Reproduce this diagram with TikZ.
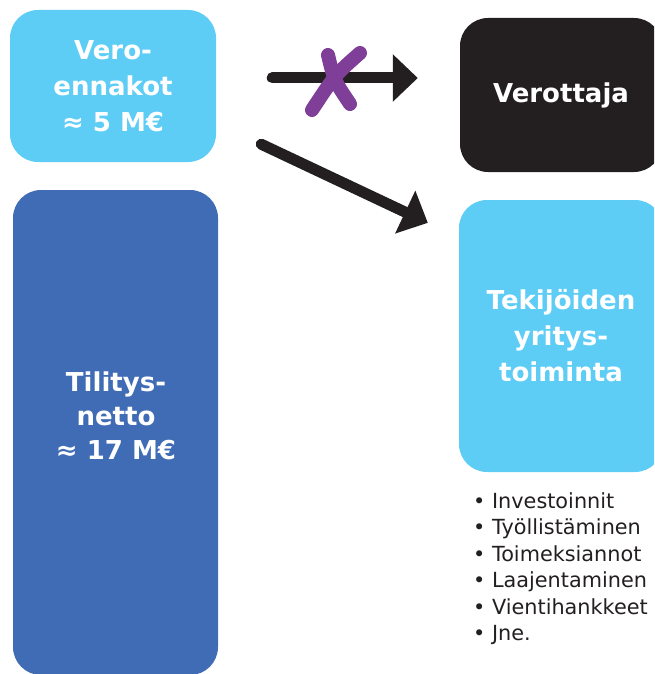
\documentclass[tikz,border=0pt]{standalone}
\usepackage{fontspec}
\setmainfont{DejaVu Sans}
\usetikzlibrary{arrows.meta}
\definecolor{skyfill}{RGB}{94,205,246}
\definecolor{navyfill}{RGB}{63,108,181}
\definecolor{inkfill}{RGB}{35,31,32}
\definecolor{crossmark}{RGB}{127,63,152}
\begin{document}
\begin{tikzpicture}[x=1pt,y=-1pt,
  box/.style={rounded corners=28pt, inner sep=0pt, text=white, align=center,
    font=\bfseries\fontsize{26}{36}\selectfont},
  flow/.style={line width=11pt, draw=inkfill, line cap=round,
    -{Triangle[length=25pt,width=46pt]}},
  xstroke/.style={draw=crossmark, line width=14pt, line cap=round},
  item/.style={anchor=base west, inner sep=0pt, text=inkfill,
    font=\fontsize{20.8}{24}\selectfont}]
\clip (0,0) rectangle (654,674);

% boxes
\node[box, fill=skyfill, minimum width=206pt, minimum height=152pt] (v1) at (113,86)
  {Vero-\\ennakot\\≈ 5 M€};
\node[box, fill=navyfill, minimum width=205pt, minimum height=485pt] (ti) at (115.5,432.5) {};
\node[box, font=\bfseries\fontsize{26}{34}\selectfont] (tit) at (116,415.5)
  {Tilitys-\\netto\\≈ 17 M€};
\node[box, fill=inkfill, minimum width=202pt, minimum height=154pt] (vt) at (561,95)
  {Verottaja};
\node[box, fill=skyfill, minimum width=204pt, minimum height=272pt] (tk) at (561,336)
  {Tekijöiden\\yritys-\\toiminta};

% connectors
\draw[flow, shorten <=56pt, shorten >=42pt] ([yshift=8pt]v1.east) -- ([yshift=17pt]vt.west);
\draw[flow] ([xshift=45pt,yshift=18pt]v1.south east) -- ([xshift=-31pt,yshift=-23pt]tk.north west);

% crossed-out mark on the upper arrow
\draw[xstroke] (328,55) .. controls (334,80) .. (350,104);
\draw[xstroke] (360,53) .. controls (335,75) .. (312,110);

% bullet list
\foreach \t [count=\i from 0] in {Investoinnit,Työllistäminen,Toimeksiannot,Laajentaminen,Vientihankkeet,Jne.}
  \node[item] (li\i) at (473, 508.3+26.5*\i) {• \t};
\end{tikzpicture}
\end{document}
